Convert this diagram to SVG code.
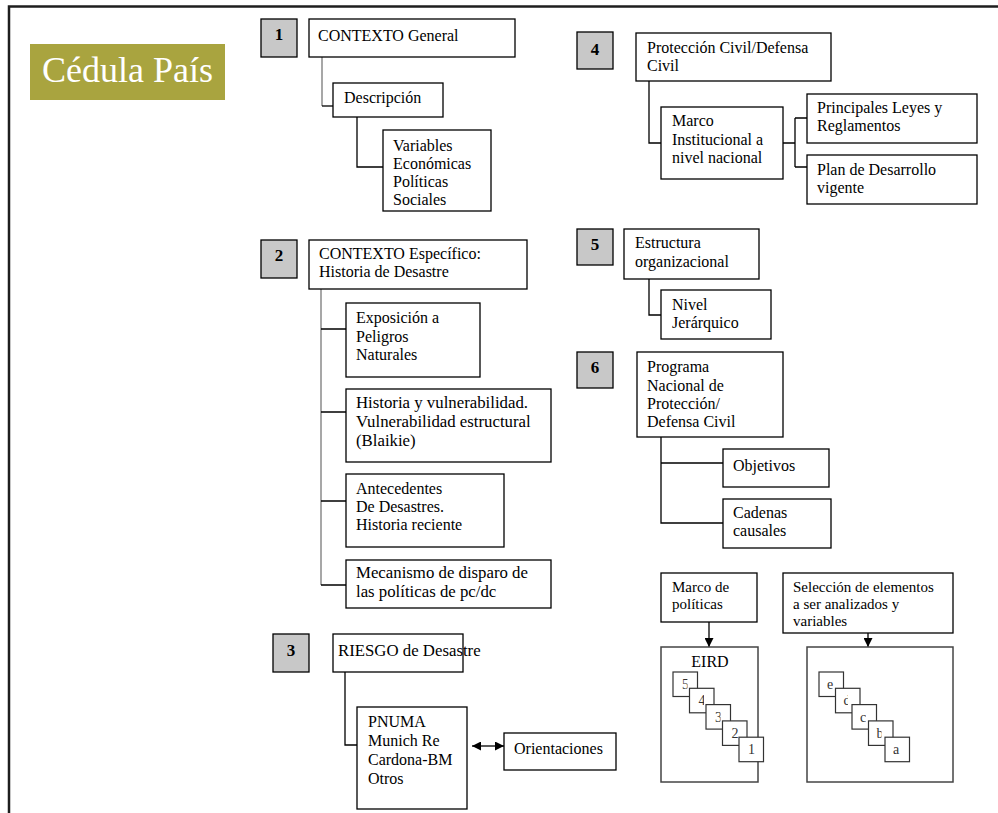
<svg xmlns="http://www.w3.org/2000/svg" width="998" height="813" viewBox="0 0 998 813">
  <style>
    text { font-family: "Liberation Serif", "Times New Roman", serif; fill: #000; }
    .t16 { font-size: 16px; }
    .t17 { font-size: 16.8px; }
    .t15 { font-size: 15px; }
    .box { fill: #fff; stroke: #000; stroke-width: 1.3; }
    .badge { fill: #c8c8c8; stroke: #000; stroke-width: 1.3; }
    .badge-num { font-size: 17px; font-weight: bold; text-anchor: middle; }
    .frame { fill: #fff; stroke: #444; stroke-width: 1.5; }
    .mini { fill: #fff; stroke: #333; stroke-width: 1.2; }
    .mini-lbl { font-size: 14px; fill: #333; }
    .link { fill: none; stroke: #000; stroke-width: 1.3; }
    .link-gray { fill: none; stroke: #8a8a8a; stroke-width: 1.5; }
    .arrow { fill: none; stroke: #000; stroke-width: 1.3; marker-end: url(#head); }
  </style>
  <defs>
    <marker id="head" viewBox="0 0 10 10" refX="10" refY="5" markerUnits="userSpaceOnUse" markerWidth="9" markerHeight="9" orient="auto-start-reverse">
      <path d="M0,0 L10,5 L0,10 z" fill="#000"/>
    </marker>
    <clipPath id="cl5"><rect x="673" y="672" width="14.5" height="24.5"/></clipPath>
    <clipPath id="cl4"><rect x="689.5" y="688.3" width="14.5" height="24.5"/></clipPath>
    <clipPath id="cl3"><rect x="706" y="704.6" width="14.5" height="24.5"/></clipPath>
    <clipPath id="cl2"><rect x="722.5" y="720.9" width="16" height="24.5"/></clipPath>
    <clipPath id="cle"><rect x="819" y="672" width="15" height="24.5"/></clipPath>
    <clipPath id="cld"><rect x="835.5" y="688.3" width="12.5" height="24.5"/></clipPath>
    <clipPath id="clc"><rect x="852" y="704.6" width="14" height="24.5"/></clipPath>
    <clipPath id="clb"><rect x="868.5" y="720.9" width="13" height="24.5"/></clipPath>
  </defs>

  <rect width="998" height="813" fill="#fff"/>
  <!-- page frame -->
  <path d="M9 813 V6.5 H998" fill="none" stroke="#1e1e1e" stroke-width="2.5"/>

  <!-- title -->
  <g id="title">
    <rect x="30" y="44" width="195" height="56" fill="#a9a43f"/>
    <text x="127.5" y="82" style="font-size:36px;fill:#fff;text-anchor:middle">Cédula País</text>
  </g>

  <!-- connectors -->
  <g id="connectors">
    <path class="link-gray" d="M322 57 V106"/>
    <path class="link" d="M322 106 H333"/>
    <path class="link" d="M357 117 V167 H383"/>
    <path class="link-gray" d="M321 289 V585"/>
    <path class="link" d="M321 329 H346 M321 412 H346 M321 501 H346 M321 585 H346"/>
    <path class="link" d="M345 672 V745 H357"/>
    <path class="arrow" d="M472 746 H504" style="marker-start:url(#head)"/>
    <path class="link" d="M649 81 V143 H661"/>
    <path class="link" d="M783 143 H795 M795 118 V167 M795 118 H807 M795 167 H807"/>
    <path class="link" d="M649 279 V315 H661"/>
    <path class="link" d="M661 437 V523 H723 M661 463 H723"/>
    <path class="arrow" d="M709 622 V647"/>
    <path class="arrow" d="M868 633 V647"/>
  </g>

  <!-- section 1 -->
  <g id="badge-1"><rect class="badge" x="261" y="19" width="36" height="38"/><text class="badge-num" x="279" y="40">1</text></g>
  <g id="contexto-general"><rect class="box" x="309" y="19" width="206" height="38"/><text class="t16" x="318" y="41">CONTEXTO General</text></g>
  <g id="descripcion"><rect class="box" x="333" y="83" width="110" height="34"/><text class="t16" x="344" y="103">Descripción</text></g>
  <g id="variables"><rect class="box" x="383" y="130" width="108" height="81"/>
    <text class="t16" x="393" y="151">Variables</text>
    <text class="t16" x="393" y="169">Económicas</text>
    <text class="t16" x="393" y="187">Políticas</text>
    <text class="t16" x="393" y="205">Sociales</text>
  </g>

  <!-- section 2 -->
  <g id="badge-2"><rect class="badge" x="261" y="240" width="36" height="38"/><text class="badge-num" x="279" y="261">2</text></g>
  <g id="contexto-especifico"><rect class="box" x="309" y="240" width="218" height="49"/>
    <text class="t16" x="319" y="259">CONTEXTO Específico:</text>
    <text class="t16" x="319" y="277">Historia de Desastre</text>
  </g>
  <g id="exposicion"><rect class="box" x="346" y="303" width="134" height="74"/>
    <text class="t16" x="356" y="323">Exposición a</text>
    <text class="t16" x="356" y="342">Peligros</text>
    <text class="t16" x="356" y="360">Naturales</text>
  </g>
  <g id="historia"><rect class="box" x="346" y="389" width="205" height="73"/>
    <text class="t17" x="356" y="408">Historia y vulnerabilidad.</text>
    <text class="t17" x="356" y="427">Vulnerabilidad estructural</text>
    <text class="t17" x="356" y="446">(Blaikie)</text>
  </g>
  <g id="antecedentes"><rect class="box" x="346" y="474" width="158" height="73"/>
    <text class="t16" x="356" y="494">Antecedentes</text>
    <text class="t16" x="356" y="512">De Desastres.</text>
    <text class="t16" x="356" y="530">Historia reciente</text>
  </g>
  <g id="mecanismo"><rect class="box" x="346" y="560" width="205" height="48"/>
    <text class="t17" x="356" y="578">Mecanismo de disparo de</text>
    <text class="t17" x="356" y="597">las políticas de pc/dc</text>
  </g>

  <!-- section 3 -->
  <g id="badge-3"><rect class="badge" x="273" y="634" width="36" height="38"/><text class="badge-num" x="291" y="656">3</text></g>
  <g id="riesgo"><rect class="box" x="333" y="634" width="130" height="38"/><text class="t16" x="338" y="656" style="font-size:16.8px">RIESGO de Desastre</text></g>
  <g id="fuentes"><rect class="box" x="357" y="707" width="110" height="102"/>
    <text class="t16" x="368" y="727">PNUMA</text>
    <text class="t16" x="368" y="746">Munich Re</text>
    <text class="t16" x="368" y="765">Cardona-BM</text>
    <text class="t16" x="368" y="784">Otros</text>
  </g>
  <g id="orientaciones"><rect class="box" x="504" y="733" width="112" height="37"/><text class="t16" x="514" y="754">Orientaciones</text></g>

  <!-- section 4 -->
  <g id="badge-4"><rect class="badge" x="577" y="32" width="36" height="37"/><text class="badge-num" x="595" y="55">4</text></g>
  <g id="proteccion"><rect class="box" x="636" y="33" width="195" height="48"/>
    <text class="t16" x="647" y="53">Protección Civil/Defensa</text>
    <text class="t16" x="647" y="71">Civil</text>
  </g>
  <g id="marco-institucional"><rect class="box" x="661" y="107" width="122" height="72"/>
    <text class="t16" x="672" y="126">Marco</text>
    <text class="t16" x="672" y="145">Institucional a</text>
    <text class="t16" x="672" y="163">nivel nacional</text>
  </g>
  <g id="leyes"><rect class="box" x="807" y="94" width="170" height="49"/>
    <text class="t16" x="817" y="113">Principales Leyes y</text>
    <text class="t16" x="817" y="131">Reglamentos</text>
  </g>
  <g id="plan"><rect class="box" x="807" y="155" width="170" height="49"/>
    <text class="t16" x="817" y="175">Plan de Desarrollo</text>
    <text class="t16" x="817" y="193">vigente</text>
  </g>

  <!-- section 5 -->
  <g id="badge-5"><rect class="badge" x="577" y="229" width="36" height="36"/><text class="badge-num" x="595" y="250">5</text></g>
  <g id="estructura"><rect class="box" x="624" y="229" width="135" height="50"/>
    <text class="t16" x="635" y="248">Estructura</text>
    <text class="t16" x="635" y="267">organizacional</text>
  </g>
  <g id="nivel"><rect class="box" x="661" y="290" width="110" height="49"/>
    <text class="t16" x="672" y="310">Nivel</text>
    <text class="t16" x="672" y="328">Jerárquico</text>
  </g>

  <!-- section 6 -->
  <g id="badge-6"><rect class="badge" x="577" y="352" width="36" height="36"/><text class="badge-num" x="595" y="373">6</text></g>
  <g id="programa"><rect class="box" x="637" y="352" width="146" height="85"/>
    <text class="t16" x="647" y="372">Programa</text>
    <text class="t16" x="647" y="391">Nacional de</text>
    <text class="t16" x="647" y="409">Protección/</text>
    <text class="t16" x="647" y="427">Defensa Civil</text>
  </g>
  <g id="objetivos"><rect class="box" x="723" y="449" width="106" height="38"/><text class="t16" x="733" y="471">Objetivos</text></g>
  <g id="cadenas"><rect class="box" x="723" y="499" width="108" height="49"/>
    <text class="t16" x="733" y="518">Cadenas</text>
    <text class="t16" x="733" y="536">causales</text>
  </g>

  <!-- policy framework -->
  <g id="marco-politicas"><rect class="box" x="661" y="573" width="96" height="49"/>
    <text class="t15" x="672" y="592">Marco de</text>
    <text class="t15" x="672" y="609">políticas</text>
  </g>
  <g id="eird">
    <rect class="frame" x="661" y="647" width="97" height="135"/>
    <text class="t16" x="710" y="667" style="text-anchor:middle">EIRD</text>
    <rect class="mini" x="673" y="672" width="24.5" height="24.5"/>
    <text class="mini-lbl" x="682" y="689" clip-path="url(#cl5)">5</text>
    <rect class="mini" x="689.5" y="688.3" width="24.5" height="24.5"/>
    <text class="mini-lbl" x="698.5" y="705.3" clip-path="url(#cl4)">4</text>
    <rect class="mini" x="706" y="704.6" width="24.5" height="24.5"/>
    <text class="mini-lbl" x="715" y="721.6" clip-path="url(#cl3)">3</text>
    <rect class="mini" x="722.5" y="720.9" width="24.5" height="24.5"/>
    <text class="mini-lbl" x="731.5" y="737.9" clip-path="url(#cl2)">2</text>
    <rect class="mini" x="739" y="737.2" width="24.5" height="24.5"/>
    <text class="mini-lbl" x="748" y="754.2">1</text>
  </g>

  <!-- element selection -->
  <g id="seleccion"><rect class="box" x="783" y="573" width="170" height="60"/>
    <text class="t15" x="793" y="592">Selección de elementos</text>
    <text class="t15" x="793" y="609">a ser analizados y</text>
    <text class="t15" x="793" y="626">variables</text>
  </g>
  <g id="elementos">
    <rect class="frame" x="807" y="647" width="146" height="135"/>
    <rect class="mini" x="819" y="672" width="24.5" height="24.5"/>
    <text class="mini-lbl" x="827" y="689" clip-path="url(#cle)">e</text>
    <rect class="mini" x="835.5" y="688.3" width="24.5" height="24.5"/>
    <text class="mini-lbl" x="843.5" y="705.3" clip-path="url(#cld)">d</text>
    <rect class="mini" x="852" y="704.6" width="24.5" height="24.5"/>
    <text class="mini-lbl" x="860" y="721.6" clip-path="url(#clc)">c</text>
    <rect class="mini" x="868.5" y="720.9" width="24.5" height="24.5"/>
    <text class="mini-lbl" x="876.5" y="737.9" clip-path="url(#clb)">b</text>
    <rect class="mini" x="885" y="737.2" width="24.5" height="24.5"/>
    <text class="mini-lbl" x="893" y="754.2">a</text>
  </g>
</svg>
